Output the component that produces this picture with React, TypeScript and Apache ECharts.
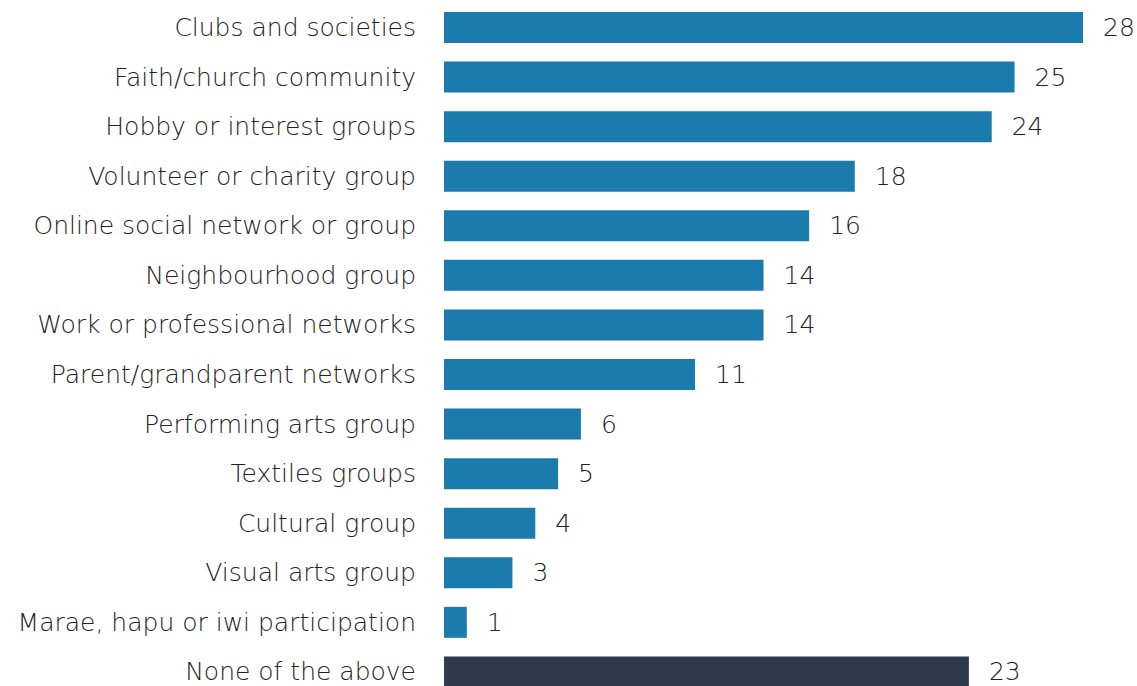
import React, { useEffect, useRef } from "react";
import * as echarts from "echarts";

const categories = [
  "Clubs and societies",
  "Faith/church community",
  "Hobby or interest groups",
  "Volunteer or charity group",
  "Online social network or group",
  "Neighbourhood group",
  "Work or professional networks",
  "Parent/grandparent networks",
  "Performing arts group",
  "Textiles groups",
  "Cultural group",
  "Visual arts group",
  "Marae, hapu or iwi participation",
  "None of the above",
];
const values = [28, 25, 24, 18, 16, 14, 14, 11, 6, 5, 4, 3, 1, 23];
const BLUE = "#1b7bac";
const DARK = "#2f3a4d";

export default function App() {
  const ref = useRef<HTMLDivElement>(null);
  useEffect(() => {
    const chart = echarts.init(ref.current!, null, { renderer: "svg" });
    const font = "'DejaVu Sans', sans-serif";
    chart.setOption({
      animation: false,
      grid: { left: 444, top: 2.7, width: 639, height: 694, containLabel: false },
      xAxis: {
        type: "value",
        min: 0,
        max: 28,
        show: false,
      },
      yAxis: {
        type: "category",
        inverse: true,
        data: categories,
        axisLine: { show: false },
        axisTick: { show: false },
        axisLabel: {
          fontFamily: font,
          fontSize: 25,
          fontWeight: 200,
          lineHeight: 24,
          color: "#222",
          margin: 28,
        },
      },
      series: [
        {
          type: "bar",
          barWidth: 31,
          data: values.map((v, i) => ({
            value: v,
            itemStyle: { color: i === values.length - 1 ? DARK : BLUE },
          })),
          label: {
            show: true,
            position: "right",
            distance: 20,
            fontFamily: font,
            fontSize: 25,
            fontWeight: 200,
            lineHeight: 24,
            color: "#222",
          },
        },
      ],
    });
    return () => chart.dispose();
  }, []);
  return (
    <div
      ref={ref}
      style={{ position: "absolute", left: 0, top: 0, width: 1137, height: 700 }}
    />
  );
}
